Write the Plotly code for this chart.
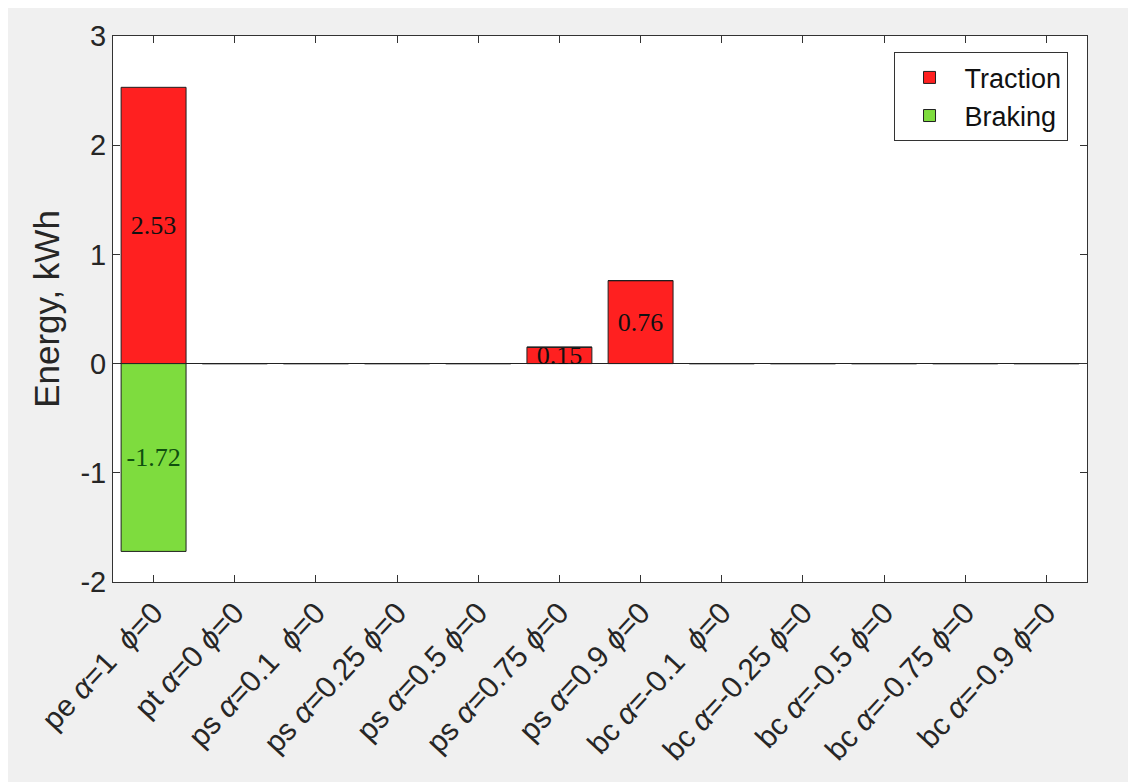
import plotly.graph_objects as go

NB = "\u00a0"
categories = [
    f"pe <i>α</i>=1{NB}{NB}<i>ϕ</i>=0",
    f"pt <i>α</i>=0{NB}<i>ϕ</i>=0",
    f"ps <i>α</i>=0.1{NB}{NB}<i>ϕ</i>=0",
    f"ps <i>α</i>=0.25{NB}<i>ϕ</i>=0",
    f"ps <i>α</i>=0.5{NB}<i>ϕ</i>=0",
    f"ps <i>α</i>=0.75{NB}<i>ϕ</i>=0",
    f"ps <i>α</i>=0.9{NB}<i>ϕ</i>=0",
    f"bc <i>α</i>=-0.1{NB}{NB}<i>ϕ</i>=0",
    f"bc <i>α</i>=-0.25{NB}<i>ϕ</i>=0",
    f"bc <i>α</i>=-0.5{NB}<i>ϕ</i>=0",
    f"bc <i>α</i>=-0.75{NB}<i>ϕ</i>=0",
    f"bc <i>α</i>=-0.9{NB}<i>ϕ</i>=0",
]
traction = [2.53, 0, 0, 0, 0, 0.15, 0.76, 0, 0, 0, 0, 0]
braking = [-1.72, 0, 0, 0, 0, 0, 0, 0, 0, 0, 0, 0]
yticks = [-2, -1, 0, 1, 2, 3]
ytick_text = ["-2", "-1", "0", "1", "2", "3"]

x = list(range(len(categories)))

def labels(vals):
    return [f"{v:.2f}" if v != 0 else "" for v in vals]

fig = go.Figure()
fig.add_trace(go.Bar(
    x=x, y=traction, name="Traction", width=0.8,
    marker=dict(color="#ff2020", line=dict(color="#202020", width=1)),
    text=labels(traction), textposition="inside", insidetextanchor="middle",
    textangle=0, constraintext="none",
    textfont=dict(family="Liberation Serif", size=26, color="#111111"),
))
fig.add_trace(go.Bar(
    x=x, y=braking, name="Braking", width=0.8,
    marker=dict(color="#7edc3e", line=dict(color="#202020", width=1)),
    text=labels(braking), textposition="inside", insidetextanchor="middle",
    textangle=0, constraintext="none",
    textfont=dict(family="Liberation Serif", size=26, color="#0f4f0f"),
))

fig.update_layout(
    width=1136, height=782,
    barmode="relative",
    paper_bgcolor="#f0f0f0",
    plot_bgcolor="white",
    margin=dict(l=105, r=57, t=28, b=208),
    font=dict(family="Liberation Sans", color="#262626"),
    showlegend=True,
    legend=dict(
        x=0.98, y=0.97, xanchor="right", yanchor="top",
        bgcolor="white", bordercolor="#333333", borderwidth=1,
        font=dict(size=27, color="#111111"),
        traceorder="normal", itemwidth=60,
    ),
    xaxis=dict(
        tickmode="array", tickvals=x, ticktext=categories,
        range=[-0.5, len(categories) - 0.5],
        tickangle=-47, tickfont=dict(size=30, color="#262626"),
        ticks="inside", ticklen=7, tickcolor="#333333",
        showline=True, linecolor="#333333", linewidth=1, mirror="ticks",
        showgrid=False, zeroline=False,
    ),
    yaxis=dict(
        range=[-2, 3], tickmode="array", tickvals=yticks, ticktext=ytick_text,
        tickfont=dict(size=29, color="#262626"),
        ticks="inside", ticklen=7, tickcolor="#333333",
        showline=True, linecolor="#333333", linewidth=1, mirror="ticks",
        showgrid=False, zeroline=True, zerolinecolor="#222222", zerolinewidth=1,
        title=dict(text=NB * 6 + "Energy, kWh", font=dict(size=35, color="#262626"), standoff=10),
    ),
)

fig.write_html("out.html")
